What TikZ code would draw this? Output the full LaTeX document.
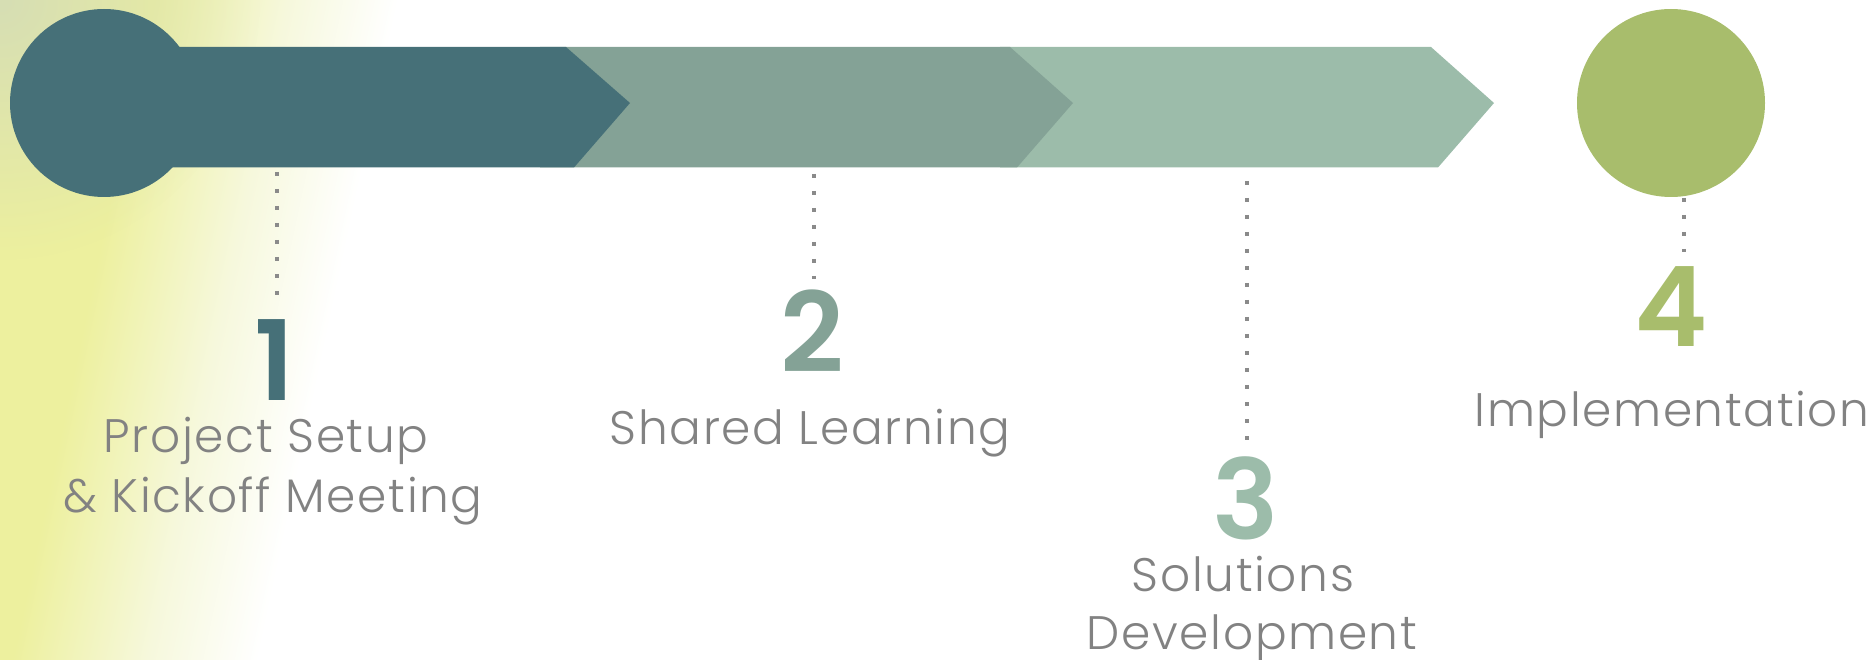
\documentclass[tikz,border=0pt]{standalone}
\usepackage{fontspec}
\usetikzlibrary{fadings}
\IfFontExistsTF{Poppins Light}{\newfontfamily\labfont{Poppins Light}[LetterSpace=3.5]}{\newfontfamily\labfont{Poppins}[LetterSpace=3.5]}
\IfFontExistsTF{Poppins SemiBold}{\newfontfamily\numfont{Poppins SemiBold}}{\newfontfamily\numfont{Poppins}[FakeBold=2]}
\definecolor{cteal}{HTML}{467078}
\definecolor{csage}{HTML}{84A296}
\definecolor{cmint}{HTML}{9CBCAA}
\definecolor{colive}{HTML}{A8BD6C}
\definecolor{ctext}{HTML}{828282}
\definecolor{cdot}{HTML}{8A8A8A}
\definecolor{cylw}{HTML}{EDF09E}
\definecolor{cpale}{HTML}{F6F8DC}
\definecolor{cgrey}{HTML}{D6DEB4}
\pgfdeclarehorizontalshading{bgfade}{100bp}{color(0bp)=(cylw); color(49bp)=(cylw); color(60bp)=(cpale); color(69bp)=(white); color(100bp)=(white)}
\tikzfading[name=cornerfade, inner color=transparent!0, outer color=transparent!100]
\tikzset{
  numstyle/.style={font=\numfont\fontsize{111}{111}\selectfont, inner sep=0pt, anchor=base},
  labstyle/.style={font=\labfont\fontsize{47}{56}\selectfont, text=ctext, inner sep=0pt, anchor=base},
  dotline/.style={draw=cdot, line width=4pt, dash pattern=on 4pt off 13pt},
  dot/.style={circle, inner sep=0pt, minimum size=188pt}
}
\begin{document}
\begin{tikzpicture}[x=1pt,y=-1pt]
\useasboundingbox (0,0) rectangle (1875,660);
\begin{scope}
\clip (0,0) rectangle (1875,660);
\shade[shading=bgfade, transform canvas={rotate around={-12:(330,330)}}] (-200,-300) rectangle (400,1000);
\fill[cgrey, path fading=cornerfade] (0,0) circle (260);
\end{scope}
% bar segments
\fill[cmint] (1000,47) -- (1431,47) -- (1494,103) -- (1438,167.5) -- (1000,167.5) -- cycle;
\fill[csage] (540,47) -- (1010,47) -- (1073,103) -- (1017,167.5) -- (540,167.5) -- cycle;
\fill[cteal] (104,47) -- (566,47) -- (630,103) -- (574,167.5) -- (104,167.5) -- cycle;
\node[dot, fill=cteal] (start) at (104,103) {};
\node[dot, fill=colive] (goal) at (1671,103) {};
% dotted connectors
\coordinate (d1a) at (277,172); \coordinate (d1b) at (277,306);
\coordinate (d2a) at (814,174); \coordinate (d2b) at (814,279);
\coordinate (d3a) at (1247,181); \coordinate (d3b) at (1247,441);
\coordinate (d4a) at (1684,198); \coordinate (d4b) at (1684,252);
\draw[dotline] (d1a) -- (d1b);
\draw[dotline] (d2a) -- (d2b);
\draw[dotline] (d3a) -- (d3b);
\draw[dotline] (d4a) -- (d4b);
% numbers
\node[numstyle, text=cteal] (n1) at (275,400) {1};
\node[numstyle, text=csage] (n2) at (812,372.5) {2};
\node[numstyle, text=cmint] (n3) at (1246,539) {3};
\node[numstyle, text=colive] (n4) at (1671,347) {4};
% labels
\node[labstyle] (l1a) at (266,452) {Project Setup};
\node[labstyle] (l1b) at (273,512.6) {\& Kickoff Meeting};
\node[labstyle] (l2) at (810,444) {Shared Learning};
\node[labstyle] (l3a) at (1243,591) {Solutions};
\node[labstyle] (l3b) at (1252,649) {Development};
\node[labstyle] (l4) at (1672,426) {Implementation};
\end{tikzpicture}
\end{document}
